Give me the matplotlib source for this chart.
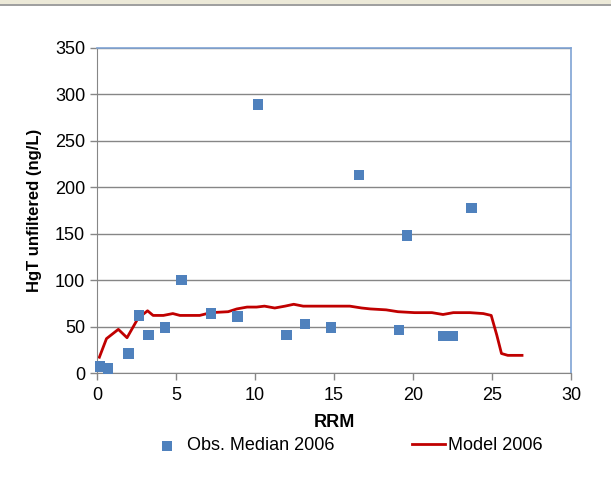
import matplotlib
matplotlib.use("Agg")
import matplotlib.pyplot as plt
from matplotlib.patches import Rectangle

plt.rcParams['font.family'] = ['Liberation Sans', 'DejaVu Sans']

# observed medians 2006
obs_rrm = [0.2, 0.7, 2.0, 2.65, 3.25, 4.3, 5.35, 7.2, 8.9, 10.2, 12.0, 13.15,
           14.8, 16.6, 19.1, 19.6, 21.9, 22.5, 23.7]
obs_hgt = [7, 5, 21, 62, 41, 49, 100, 64, 61, 289, 41, 53,
           49, 213, 46, 148, 40, 40, 178]

# model 2006
model_rrm = [0.15, 0.6, 1.35, 1.9, 2.6, 3.2, 3.55, 4.2, 4.8, 5.25, 6.5, 7.2,
             8.3, 8.85, 9.5, 10.1, 10.6, 11.25, 11.9, 12.45, 13.05, 15.4, 16.0,
             16.75, 17.3, 18.3, 19.05, 20.1, 21.2, 21.9, 22.55, 23.6, 24.45,
             24.95, 25.3, 25.6, 26.0, 26.9]
model_hgt = [17, 37, 47, 38, 59, 67, 62, 62, 64, 62, 62, 65,
             66, 69, 71, 71, 72, 70, 72, 74, 72, 72, 72,
             70, 69, 68, 66, 65, 65, 63, 65, 65, 64,
             62, 41, 21, 19, 19]

x_ticks = [0, 5, 10, 15, 20, 25, 30]
y_ticks = [0, 50, 100, 150, 200, 250, 300, 350]

grey = '#868686'
blue_border = '#7fa3d4'

fig = plt.figure(figsize=(6.11, 5.01), dpi=100)
fig.patches.append(Rectangle((0, 1 - 4 / 501), 1, 4 / 501, transform=fig.transFigure,
                             facecolor='#ece9d8', edgecolor='none'))
fig.patches.append(Rectangle((0, 1 - 5.5 / 501), 1, 1.5 / 501, transform=fig.transFigure,
                             facecolor='#a0a0a0', edgecolor='none'))

ax = fig.add_axes([97 / 611, 1 - 373 / 501, 474 / 611, 325 / 501])

ax.plot(model_rrm, model_hgt, color='#c00000', lw=2.0, label='Model 2006', zorder=2)
ax.scatter(obs_rrm, obs_hgt, marker='s', s=55, color='#4f81bd', edgecolors='none',
           label='Obs. Median 2006', zorder=3, clip_on=False)

ax.set_xlim(0, 30)
ax.set_ylim(0, 350)
ax.set_xticks(x_ticks)
ax.set_yticks(y_ticks)
ax.tick_params(labelsize=13, color=grey, length=5, width=1, direction='out')
ax.tick_params(axis='x', pad=5)
ax.yaxis.grid(True, color=grey, lw=1)
ax.set_axisbelow(True)

for side in ['left', 'bottom']:
    ax.spines[side].set_color(grey)
for side in ['top', 'right']:
    ax.spines[side].set_color(blue_border)
    ax.spines[side].set_linewidth(1.2)

ax.set_xlabel('RRM', fontsize=13, fontweight='bold', labelpad=7)
ax.set_ylabel('HgT unfiltered (ng/L)', fontsize=12, fontweight='bold', labelpad=9)

handles, labels = ax.get_legend_handles_labels()
fig.legend(handles[::-1], labels[::-1], loc='center', bbox_to_anchor=(0.568, 0.1098),
           ncol=2, frameon=False, fontsize=13, handlelength=1.8, handletextpad=0.2,
           columnspacing=4.3, scatterpoints=1)

fig.savefig('out.png', dpi=100)
